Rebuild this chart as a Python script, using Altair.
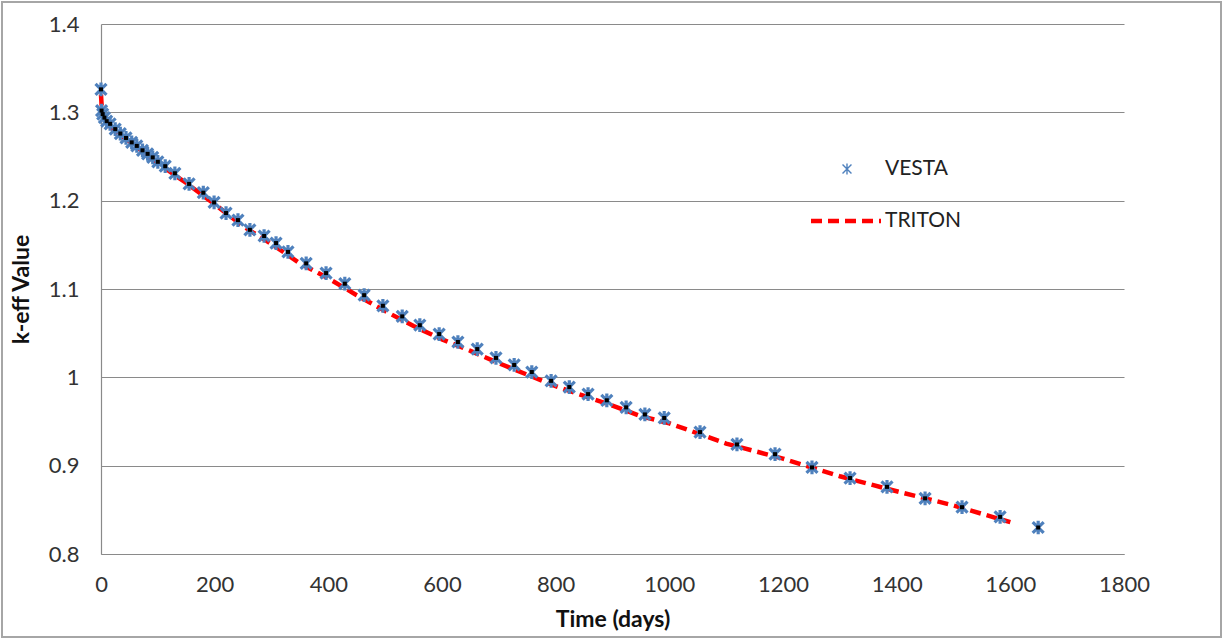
import altair as alt
import pandas as pd

# VESTA depletion results: time (days) and k-eff
vesta_days = [0, 1, 3, 6, 10, 16, 25, 34, 44, 54, 63, 73, 82, 91, 100, 113,
              130, 155, 180, 199, 220, 241, 262, 287, 308, 329, 361, 396, 429,
              463, 496, 530, 561, 595, 628, 662, 695, 727, 758, 792, 824, 857,
              890, 924, 957, 991, 1054, 1119, 1186, 1251, 1318, 1383, 1450,
              1515, 1582, 1649]
vesta_keff = [1.326, 1.302, 1.298, 1.294, 1.290, 1.287, 1.281, 1.276, 1.271,
              1.266, 1.262, 1.257, 1.253, 1.249, 1.244, 1.239,
              1.231, 1.219, 1.209, 1.198, 1.186, 1.178, 1.167, 1.160, 1.152,
              1.142, 1.129, 1.118, 1.106, 1.093, 1.081, 1.069, 1.059, 1.049,
              1.040, 1.032, 1.022, 1.014, 1.006, 0.996, 0.989, 0.981, 0.974,
              0.966, 0.958, 0.954, 0.938, 0.924, 0.913, 0.898, 0.886, 0.876,
              0.863, 0.853, 0.842, 0.830]

# TRITON depletion results
triton_days = [0, 2, 10, 25, 50, 75, 100, 125, 150, 175, 200, 250, 300, 350,
               400, 450, 500, 550, 600, 650, 700, 750, 800, 850, 900, 950,
               1000, 1100, 1200, 1300, 1400, 1500, 1600]
triton_keff = [1.320, 1.298, 1.287, 1.279, 1.267, 1.255, 1.243, 1.231, 1.220,
               1.208, 1.196, 1.171, 1.151, 1.129, 1.112, 1.093, 1.075, 1.058,
               1.043, 1.030, 1.016, 1.003, 0.990, 0.979, 0.968, 0.956, 0.948,
               0.925, 0.908, 0.888, 0.871, 0.855, 0.836]

x_ticks = [0, 200, 400, 600, 800, 1000, 1200, 1400, 1600, 1800]
y_ticks = [0.8, 0.9, 1.0, 1.1, 1.2, 1.3, 1.4]

vesta = pd.DataFrame({"t": vesta_days, "k": vesta_keff})
triton = pd.DataFrame({"t": triton_days, "k": triton_keff})
one = pd.DataFrame({"a": [0]})

FONT = "Lato"
BLUE = "#4F81BD"
STAR = "M-1,-1L1,1M-1,1L1,-1M0,-1.25L0,1.25"

x_enc = alt.X("t:Q", title="Time (days)",
              scale=alt.Scale(domain=[0, 1800], nice=False, zero=False),
              axis=alt.Axis(values=x_ticks, grid=False, ticks=False,
                            format="d",
                            domainColor="#8a8a8a", domainWidth=1.2,
                            labelFontSize=22, labelPadding=20,
                            labelColor="#333333", labelFont=FONT,
                            titleFont=FONT, titleFontSize=23,
                            titleFontWeight="bold", titleColor="#111111",
                            titlePadding=13, labelFlush=False))
y_enc = alt.Y("k:Q", title="k-eff Value",
              scale=alt.Scale(domain=[0.8, 1.4], nice=False, zero=False),
              axis=alt.Axis(values=y_ticks, grid=True, ticks=False,
                            gridColor="#8a8a8a", gridWidth=1.2,
                            domainColor="#8a8a8a", domainWidth=1.2,
                            labelFontSize=22, labelPadding=22,
                            labelColor="#333333", labelFont=FONT,
                            labelExpr="format(datum.value, '.1~f')",
                            titleFont=FONT, titleFontSize=23,
                            titleFontWeight="bold", titleColor="#111111",
                            titlePadding=15))

triton_line = alt.Chart(triton).mark_line(
    color="#FF0000", strokeWidth=4.5, strokeDash=[11, 6]
).encode(x=x_enc, y=y_enc)

vesta_pts = alt.Chart(vesta).mark_point(
    shape=STAR, filled=False, color=BLUE, strokeWidth=3.2, size=120, opacity=1
).encode(x="t:Q", y="k:Q")

vesta_dots = alt.Chart(vesta).mark_square(
    color="black", size=16, opacity=1, dx=3
).encode(x="t:Q", y="k:Q")

# legend drawn inside the plot area
leg_star = alt.Chart(one).mark_point(
    shape=STAR, filled=False, color=BLUE, strokeWidth=1.4, size=80, opacity=1
).encode(x=alt.value(746), y=alt.value(145))
leg_vesta = alt.Chart(one).mark_text(
    text="VESTA", align="left", baseline="middle", font=FONT, fontSize=21,
    color="#222222"
).encode(x=alt.value(784), y=alt.value(145))
leg_line = alt.Chart(one).mark_rule(
    color="#FF0000", strokeWidth=4.5, strokeDash=[11, 6]
).encode(x=alt.value(710), x2=alt.value(780), y=alt.value(197))
leg_triton = alt.Chart(one).mark_text(
    text="TRITON", align="left", baseline="middle", font=FONT, fontSize=21,
    color="#222222"
).encode(x=alt.value(784), y=alt.value(197))

# outer frame around the whole figure
frame = alt.Chart(one).mark_rect(
    fillOpacity=0, stroke="#a6a6a6", strokeWidth=2
).encode(x=alt.value(-99), x2=alt.value(1120),
         y=alt.value(-22), y2=alt.value(613))

chart = alt.layer(
    triton_line, vesta_pts, vesta_dots,
    leg_star, leg_vesta, leg_line, leg_triton, frame
).properties(
    width=1023, height=530,
    autosize=alt.AutoSizeParams(type="none"),
    padding={"left": 101, "top": 24, "right": 101, "bottom": 86},
    background="white",
).configure_view(stroke=None)

chart.save("out.html", embed_options={"renderer": "svg", "actions": False})
